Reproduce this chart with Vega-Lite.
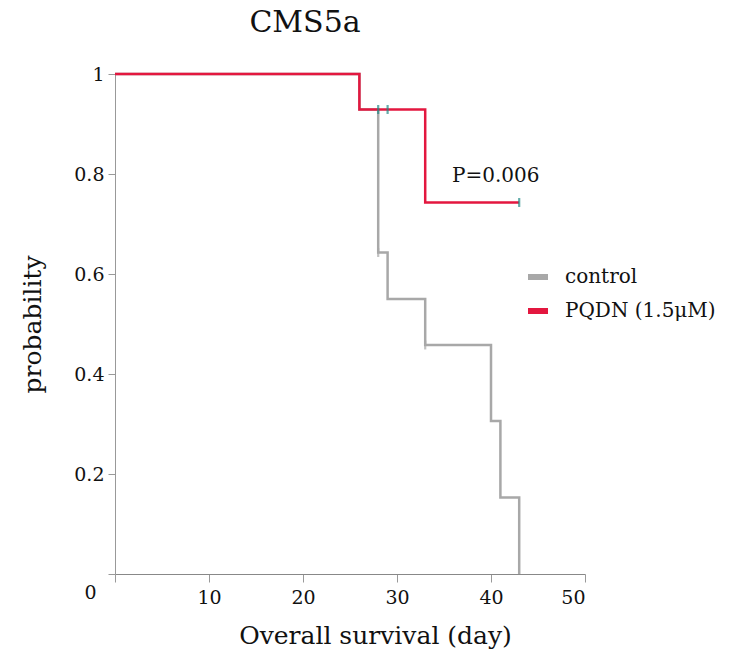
{
  "$schema": "https://vega.github.io/schema/vega-lite/v6.json",
  "width": 470,
  "height": 500,
  "autosize": {"type": "none"},
  "padding": {"left": 115, "top": 74, "right": 146, "bottom": 84},
  "background": "white",
  "config": {"view": {"stroke": null}, "font": "DejaVu Serif"},
  "title": {"text": "CMS5a", "font": "DejaVu Serif", "fontSize": 30, "fontWeight": "normal", "color": "#111", "anchor": "middle", "dx": -45, "offset": 27},
  "datasets": {
    "curves": [
      {"group": "control", "day": 0, "p": 1},
      {"group": "control", "day": 26, "p": 0.929},
      {"group": "control", "day": 28, "p": 0.643},
      {"group": "control", "day": 29, "p": 0.55},
      {"group": "control", "day": 33, "p": 0.458},
      {"group": "control", "day": 40, "p": 0.306},
      {"group": "control", "day": 41, "p": 0.153},
      {"group": "control", "day": 43, "p": 0},
      {"group": "PQDN (1.5μM)", "day": 0, "p": 1},
      {"group": "PQDN (1.5μM)", "day": 26, "p": 0.929},
      {"group": "PQDN (1.5μM)", "day": 33, "p": 0.743},
      {"group": "PQDN (1.5μM)", "day": 43, "p": 0.743}
    ],
    "censor": [
      {"day": 28, "p": 0.929, "kind": "t"},
      {"day": 29, "p": 0.929, "kind": "t"},
      {"day": 43, "p": 0.743, "kind": "t"},
      {"day": 28, "p": 0.643, "kind": "g"},
      {"day": 33, "p": 0.458, "kind": "g"}
    ],
    "note": [{"day": 40.5, "p": 0.797, "label": "P=0.006"}]
  },
  "layer": [
    {
      "data": {"name": "curves"},
      "mark": {"type": "line", "interpolate": "step-after", "strokeWidth": 2.5},
      "encoding": {
        "x": {"field": "day", "type": "quantitative", "scale": {"domain": [0, 50], "nice": false},
          "axis": {"values": [0, 10, 20, 30, 40, 50], "title": "Overall survival (day)", "titleFont": "DejaVu Serif", "titleFontSize": 25, "titleFontWeight": "normal", "titleColor": "#111", "titlePadding": 16, "titleX": 260,
            "labelExpr": "datum.value == 0 ? '' : datum.label", "labelFont": "DejaVu Serif", "labelFontSize": 19, "labelColor": "#111", "labelPadding": 6, "tickSize": 8, "tickColor": "#999", "domainColor": "#888", "grid": false}},
        "y": {"field": "p", "type": "quantitative", "scale": {"domain": [0, 1], "nice": false},
          "axis": {"values": [0, 0.2, 0.4, 0.6, 0.8, 1], "title": "probability", "titleFont": "DejaVu Serif", "titleFontSize": 25, "titleFontWeight": "normal", "titleColor": "#111", "titlePadding": 28,
            "labelExpr": "datum.value == 0 ? '0' : datum.value == 1 ? '1' : format(datum.value, '.1f')",
            "labelOffset": {"condition": {"test": "datum.value == 0", "value": 18}, "value": 0},
            "labelPadding": {"condition": {"test": "datum.value == 0", "value": 12}, "value": 4},
            "labelFont": "DejaVu Serif", "labelFontSize": 19, "labelColor": "#111", "tickSize": 7, "tickColor": "#999", "domainColor": "#999", "grid": false}},
        "color": {"field": "group", "type": "nominal", "sort": ["control", "PQDN (1.5μM)"],
          "scale": {"domain": ["control", "PQDN (1.5μM)"], "range": ["#a8a8a8", "#e3173f"]},
          "legend": {"title": null, "orient": "none", "legendX": 410, "legendY": 190, "symbolType": "stroke", "symbolStrokeWidth": 6, "symbolSize": 400, "labelFont": "DejaVu Serif", "labelFontSize": 20, "labelColor": "#111", "rowPadding": 9, "labelOffset": 14}}
      }
    },
    {
      "data": {"name": "censor"},
      "mark": {"type": "point", "shape": "M0,-1L0,1", "size": 80, "strokeWidth": 2.2, "filled": false},
      "encoding": {
        "x": {"field": "day", "type": "quantitative"},
        "y": {"field": "p", "type": "quantitative"},
        "stroke": {"field": "kind", "type": "nominal", "scale": {"domain": ["t", "g"], "range": ["#1f8a86", "#a8a8a8"]}, "legend": null}
      }
    },
    {
      "data": {"name": "note"},
      "mark": {"type": "text", "font": "DejaVu Serif", "fontSize": 20, "color": "#111", "baseline": "middle", "align": "center"},
      "encoding": {
        "x": {"field": "day", "type": "quantitative"},
        "y": {"field": "p", "type": "quantitative"},
        "text": {"field": "label"}
      }
    }
  ]
}
